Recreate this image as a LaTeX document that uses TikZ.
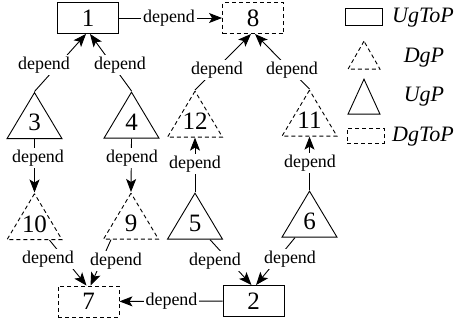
\documentclass[tikz,border=0pt]{standalone}
\usepackage{fontspec}
\setmainfont{Liberation Serif}
\usetikzlibrary{shapes.geometric,arrows.meta,calc}

\begin{document}
\begin{tikzpicture}[x=1pt,y=-1pt,
  box/.style={draw, line width=0.9pt, minimum width=61pt, minimum height=31pt,
    inner sep=0pt, font=\fontsize{25}{25}\selectfont},
  dbox/.style={box, dash pattern=on 4pt off 3pt},
  tri/.style={draw, isosceles triangle, shape border rotate=90,
    isosceles triangle stretches, minimum width=55pt, minimum height=46pt,
    inner sep=0pt, line width=0.9pt, anchor=apex},
  dtri/.style={tri, dash pattern=on 4pt off 3pt},
  num/.style={font=\fontsize{25}{25}\selectfont, inner sep=0pt},
  lbl/.style={fill=white, inner sep=2pt, font=\fontsize{18}{18}\selectfont},
  key/.style={font=\fontsize{22}{22}\selectfont\itshape, inner sep=0pt},
  arr/.style={line width=0.9pt, -{Stealth[length=13pt,width=10pt,inset=3pt]}},
]
\useasboundingbox (0,0) rectangle (472,327);

% top and bottom boxes
\node[box]  (b1) at (88,18)      {1};
\node[dbox] (b8) at (253,18)     {8};
\node[dbox] (b7) at (88.5,301.5) {7};
\node[box]  (b2) at (253.5,301)  {2};

% triangles, placed by their apex
\node[tri]  (t3)  at (34.5,91.5) {};
\node[tri]  (t4)  at (131.5,91)  {};
\node[dtri] (t12) at (195,90)    {};
\node[dtri] (t11) at (309.5,89)  {};
\node[dtri] (t10) at (34.5,192.5) {};
\node[dtri] (t9)  at (131,192)   {};
\node[tri]  (t5)  at (195,192)   {};
\node[tri]  (t6)  at (309.5,190) {};

\node[num] (n3)  at (34.5,122.5) {3};
\node[num] (n4)  at (131.5,122) {4};
\node[num] (n12) at (195,121)   {12};
\node[num] (n11) at (309.5,120) {11};
\node[num] (n10) at (34.5,224)  {10};
\node[num] (n9)  at (131,223)   {9};
\node[num] (n5)  at (195,223)   {5};
\node[num] (n6)  at (309.5,221) {6};

% dependencies
\draw[arr] (b1) -- (b8);
\draw[arr] (b2) -- (b7);
\draw[arr] (t3.apex)  -- ($(b1.south)+(-2,0)$);
\draw[arr] (t4.apex)  -- ($(b1.south)+(2,0)$);
\draw[arr] (t12.apex) -- ($(b8.south)+(-2,0)$);
\draw[arr] (t11.apex) -- ($(b8.south)+(2,0)$);
\draw[arr] (t3.south) -- (t10.apex);
\draw[arr] (t4.south) -- (t9.apex);
\draw[arr] (t5.apex)  -- (t12.south);
\draw[arr] (t6.apex)  -- (t11.south);
\draw[arr] ($(t10.south)+(15,0)$)  -- ($(b7.north)+(-2,0)$);
\draw[arr] ($(t9.south)+(-20,0)$)  -- ($(b7.north)+(2,0)$);
\draw[arr] ($(t5.south)+(15,0)$)   -- ($(b2.north)+(-2,0)$);
\draw[arr] ($(t6.south)+(-14.5,0)$) -- ($(b2.north)+(2.5,0)$);

% connector labels
\node[lbl] (d18)  at (169,18)  {depend};
\node[lbl] (d27)  at (171.5,301) {depend};
\node[lbl] (d31)  at (44,65)   {depend};
\node[lbl] (d41)  at (120,65)  {depend};
\node[lbl] (d128) at (217,70)  {depend};
\node[lbl] (d118) at (292,70)  {depend};
\node[lbl] (d310) at (38,158)  {depend};
\node[lbl] (d49)  at (132,158) {depend};
\node[lbl] (d512) at (195,164) {depend};
\node[lbl] (d611) at (310,163) {depend};
\node[lbl] (d107) at (48,259)  {depend};
\node[lbl] (d97)  at (116,261) {depend};
\node[lbl] (d52)  at (215,261) {depend};
\node[lbl] (d62)  at (290,259) {depend};

% legend
\node[draw, line width=0.9pt, minimum width=37pt, minimum height=17pt, inner sep=0pt]
  (k1) at (363.5,16.5) {};
\node[key] (kt1) at (423,17.5) {UgToP};
\node[dtri, minimum width=32pt, minimum height=28pt] (k2) at (364,40) {};
\node[key] (kt2) at (424,58) {DgP};
\node[tri, minimum width=32pt, minimum height=35pt] (k3) at (364,78) {};
\node[key] (kt3) at (424,97) {UgP};
\node[draw, line width=0.9pt, dash pattern=on 4pt off 3pt, minimum width=37pt,
  minimum height=15pt, inner sep=0pt] (k4) at (365.5,135.5) {};
\node[key] (kt4) at (423,136.5) {DgToP};
\end{tikzpicture}
\end{document}
